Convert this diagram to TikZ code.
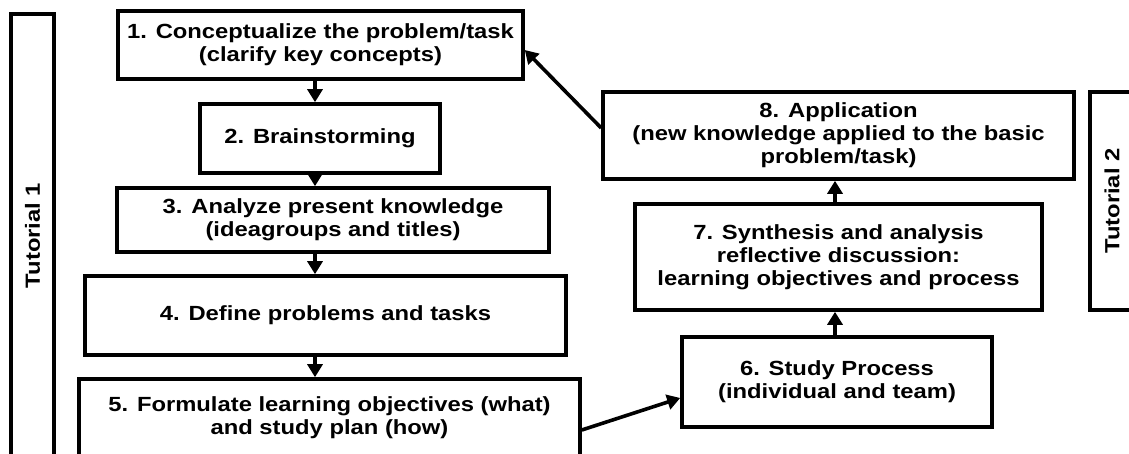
\documentclass[tikz,border=0pt]{standalone}
\usepackage{fontspec}
\setmainfont{Liberation Sans}[FakeStretch=1.16]
\usetikzlibrary{arrows.meta}

\begin{document}
\begin{tikzpicture}[x=0.5pt, y=-0.5pt,
          stepbox/.style={rectangle, draw=black, line width=1.8pt, inner sep=0pt,
                          align=center, font=\fontsize{10.25}{11.6}\selectfont\bfseries},
          tutbox/.style={stepbox, rotate=90},
          arr/.style={-{Triangle[length=6.5pt, width=7.5pt]}, line width=1.8pt}
        ]
        \useasboundingbox (0,0) rectangle (1129,454);
        \clip (0,0) rectangle (1129,454);

        % Tutorial frames
        \node[tutbox, minimum width=221.5pt, minimum height=21.5pt]
              (tut1) at (32.5,235.5) {Tutorial 1};
        \node[tutbox, minimum width=109pt, minimum height=22pt]
              (tut2) at (1112,201) {Tutorial 2};

        % Tutorial 1 steps
        \node[stepbox, minimum width=202.5pt, minimum height=34pt]
              (b1) at (320.5,45) {1. Conceptualize the problem/task\\(clarify key concepts)};
        \node[stepbox, minimum width=120pt, minimum height=34.5pt]
              (b2) at (320,138.5) {2. Brainstorming};
        \node[stepbox, minimum width=216pt, minimum height=32pt]
              (b3) at (333,220) {3. Analyze present knowledge\\(ideagroups and titles)};
        \node[stepbox, minimum width=240.5pt, minimum height=39.5pt]
              (b4) at (325.5,315.5) {4. Define problems and tasks};
        \node[stepbox, minimum width=250.5pt, minimum height=39pt]
              (b5) at (329.5,418) {5. Formulate learning objectives (what)\\and study plan (how)};

        % Study and Tutorial 2 steps
        \node[stepbox, minimum width=155pt, minimum height=45pt]
              (b6) at (837,382) {6. Study Process\\(individual and team)};
        \node[stepbox, minimum width=203.5pt, minimum height=53pt]
              (b7) at (838.5,257) {7. Synthesis and analysis\\reflective discussion:\\learning objectives and process};
        \node[stepbox, minimum width=235.5pt, minimum height=43.5pt]
              (b8) at (838.5,135.5) {8. Application\\(new knowledge applied to the basic\\problem/task)};

        \coordinate (lcol) at (315,0);
        \coordinate (rcol) at (835,0);

        \draw[arr] (b1.south -| lcol) -- (b2.north -| lcol);
        \draw[arr] (b2.south -| lcol) -- (b3.north -| lcol);
        \draw[arr] (b3.south -| lcol) -- (b4.north -| lcol);
        \draw[arr] (b4.south -| lcol) -- (b5.north -| lcol);
        \draw[arr] ([yshift=-6pt]b5.east) -- ([yshift=-8pt]b6.west);
        \draw[arr] (b6.north -| rcol) -- (b7.south -| rcol);
        \draw[arr] (b7.north -| rcol) -- (b8.south -| rcol);
        \draw[arr] ([yshift=3.75pt]b8.west) -- ([yshift=-2.5pt]b1.east);
      \end{tikzpicture}
\end{document}
